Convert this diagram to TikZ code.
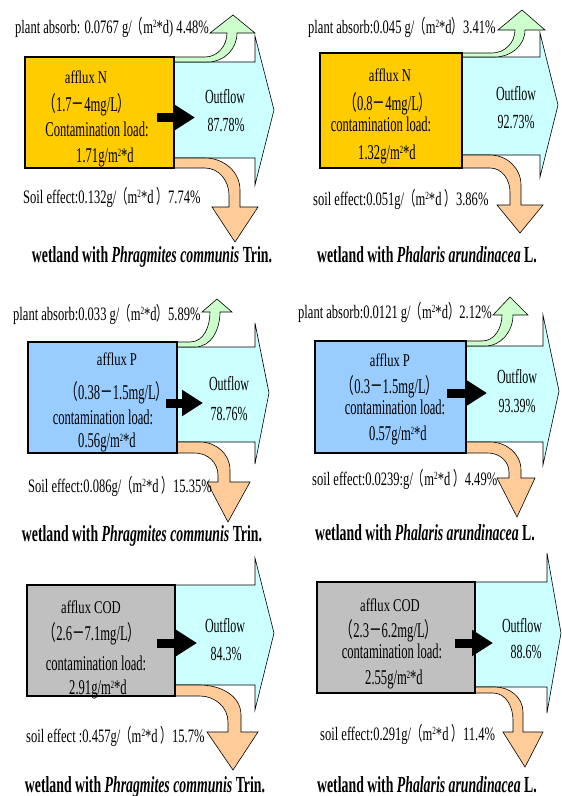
\documentclass[tikz,border=0pt]{standalone}
\usepackage{fontspec}
\setmainfont{Liberation Serif}[FakeStretch=0.6]
\newfontfamily\sidefont{Liberation Serif}[FakeStretch=0.66]
\newfontfamily\headfont{Liberation Serif}[FakeStretch=0.7]
\newfontfamily\cjk{Noto Sans CJK SC}[FakeStretch=0.6]
\usetikzlibrary{arrows.meta}

\definecolor{inN}{HTML}{FFCC00}
\definecolor{inP}{HTML}{99CCFF}
\definecolor{inCOD}{HTML}{C0C0C0}
\definecolor{outflow}{HTML}{CCFFFF}
\definecolor{plantflow}{HTML}{CCFFCC}
\definecolor{soilflow}{HTML}{FFCC99}

\newcommand\fwl{{\cjk （}}
\newcommand\fwr{{\cjk ）}}
\newcommand\fwm{{\cjk －}}
\newcommand\msq{m\raisebox{0.6ex}{\fontsize{11}{11}\selectfont 2}}

\tikzset{
  >=latex,
  inbox/.style={draw,line width=1.2pt},
  flow/.style={draw,line width=0.6pt,line join=miter},
  lbl/.style={inner sep=0pt,anchor=base,font=\fontsize{21}{21}\selectfont},
  headlbl/.style={lbl,font=\headfont\fontsize{18}{18}\selectfont},
  outlbl/.style={lbl,font=\fontsize{20}{20}\selectfont},
  sidelbl/.style={lbl,anchor=base west,font=\sidefont\fontsize{19}{19}\selectfont},
  wetname/.style={inner sep=0pt,anchor=base,font=\fontsize{23}{23}\selectfont\bfseries},
  pusharrow/.style={line width=9pt,-{Triangle[length=21pt,width=25pt]}}
}

\begin{document}
\begin{tikzpicture}[x=1pt,y=-1pt]
  \path[use as bounding box,fill=white] (0,0) rectangle (562,796);

  % ---- N, Phragmites ----
  \draw[flow,fill=outflow] (174,62) -- (255,62) -- (255,36) -- (274,110) -- (255,185) -- (255,158) -- (174,158) -- cycle;
  \draw[flow,fill=plantflow] (174,62) -- (208,62) to[out=0,in=-90] (237,33) -- (255,33) -- (233,15) -- (210,33) -- (227,33) to[out=-90,in=0] (205,57) -- (174,57) -- cycle;
  \draw[flow,fill=soilflow] (174,158) -- (205,158) to[out=0,in=90] (240,190) -- (240,207) -- (258,207) -- (235,242) -- (212,207) -- (229,207) -- (229,195) to[out=90,in=0] (205,168) -- (174,168) -- cycle;
  \draw[inbox,fill=inN] (25,57) rectangle (174,168);
  \draw[pusharrow] (157,117.5) -- (195,117.5);
  \node[sidelbl] (p1plant) at (15,33) {plant absorb: 0.0767 g/\fwl\msq*d) 4.48\%};
  \node[headlbl] (p1in) at (86,83) {afflux N};
  \node[lbl] (p1range) at (87,111) {\fwl 1.7\fwm 4mg/L\fwr};
  \node[lbl] (p1load) at (97,136) {Contamination load:};
  \node[lbl] (p1rate) at (105,162) {1.71g/\msq*d};
  \node[outlbl] (p1out) at (225,103) {Outflow};
  \node[outlbl] (p1pct) at (226,131) {87.78\%};
  \node[sidelbl] (p1soil) at (23,203) {Soil effect:0.132g/\fwl\msq*d \fwr 7.74\%};
  \node[wetname] (p1name) at (152,262) {wetland with \textit{Phragmites communis} Trin.};

  % ---- N, Phalaris ----
  \draw[flow,fill=outflow] (462,57) -- (540,57) -- (540,33) -- (558,105) -- (540,177) -- (540,155) -- (462,155) -- cycle;
  \draw[flow,fill=plantflow] (462,57) -- (495,57) to[out=0,in=-90] (525,30) -- (545,30) -- (522,10) -- (498,30) -- (515,30) to[out=-90,in=0] (492,53) -- (462,53) -- cycle;
  \draw[flow,fill=soilflow] (462,155) -- (490,155) to[out=0,in=90] (521,185) -- (521,205) -- (543,205) -- (520,233) -- (497,205) -- (510,205) -- (510,192) to[out=90,in=0] (490,168) -- (462,168) -- cycle;
  \draw[inbox,fill=inN] (320,53) rectangle (462,168);
  \node[sidelbl] (p2plant) at (308,33) {plant absorb:0.045 g/\fwl\msq*d\fwr 3.41\%};
  \node[headlbl] (p2in) at (390,81) {afflux N};
  \node[lbl] (p2range) at (388,110) {\fwl 0.8\fwm 4mg/L\fwr};
  \node[lbl] (p2load) at (381,131) {contamination load:};
  \node[lbl] (p2rate) at (387,159) {1.32g/\msq*d};
  \node[outlbl] (p2out) at (516,100) {Outflow};
  \node[outlbl] (p2pct) at (516,128) {92.73\%};
  \node[sidelbl] (p2soil) at (313,205) {soil effect:0.051g/\fwl\msq*d \fwr 3.86\%};
  \node[wetname] (p2name) at (427,262) {wetland with \textit{Phalaris arundinacea} L.};

  % ---- P, Phragmites ----
  \draw[flow,fill=outflow] (177,347) -- (255,347) -- (255,323) -- (269,393) -- (255,464) -- (255,442) -- (177,442) -- cycle;
  \draw[flow,fill=plantflow] (177,347) -- (195,347) to[out=0,in=-90] (220,312) -- (232,312) -- (217,299) -- (202,312) -- (210,312) to[out=-90,in=0] (190,342) -- (177,342) -- cycle;
  \draw[flow,fill=soilflow] (177,442) -- (200,442) to[out=0,in=90] (230,470) -- (230,482) -- (250,482) -- (228,522) -- (207,482) -- (218,482) -- (218,475) to[out=90,in=0] (195,453) -- (177,453) -- cycle;
  \draw[inbox,fill=inP] (28,342) rectangle (177,453);
  \draw[pusharrow] (166,403) -- (203,403);
  \node[sidelbl] (p3plant) at (13,320) {plant absorb:0.033 g/\fwl\msq*d\fwr 5.89\%};
  \node[headlbl] (p3in) at (117,365) {afflux P};
  \node[lbl] (p3range) at (117,399) {\fwl 0.38\fwm 1.5mg/L\fwr};
  \node[lbl] (p3load) at (103,424) {contamination load:};
  \node[lbl] (p3rate) at (107,447) {0.56g/\msq*d};
  \node[outlbl] (p3out) at (229,390) {Outflow};
  \node[outlbl] (p3pct) at (229,420) {78.76\%};
  \node[sidelbl] (p3soil) at (28,492) {Soil effect:0.086g/\fwl\msq*d \fwr 15.35\%};
  \node[wetname] (p3name) at (142,541) {wetland with \textit{Phragmites communis} Trin.};

  % ---- P, Phalaris ----
  \draw[flow,fill=outflow] (466,346) -- (543,346) -- (543,315) -- (559,391) -- (543,465) -- (543,442) -- (466,442) -- cycle;
  \draw[flow,fill=plantflow] (466,346) -- (485,346) to[out=0,in=-90] (513,315) -- (528,315) -- (510,297) -- (493,315) -- (502,315) to[out=-90,in=0] (482,341) -- (466,341) -- cycle;
  \draw[flow,fill=soilflow] (466,442) -- (490,442) to[out=0,in=90] (521,470) -- (521,478) -- (535,478) -- (517,517) -- (497,478) -- (509,478) -- (509,472) to[out=90,in=0] (488,453) -- (466,453) -- cycle;
  \draw[inbox,fill=inP] (315,341) rectangle (466,453);
  \draw[pusharrow] (447,393) -- (487,393);
  \node[sidelbl] (p4plant) at (298,318) {plant absorb:0.0121 g/\fwl\msq*d\fwr 2.12\%};
  \node[headlbl] (p4in) at (390,366) {afflux P};
  \node[lbl] (p4range) at (390,393) {\fwl 0.3\fwm 1.5mg/L\fwr};
  \node[lbl] (p4load) at (395,414) {contamination load:};
  \node[lbl] (p4rate) at (398,440) {0.57g/\msq*d};
  \node[outlbl] (p4out) at (517,383) {Outflow};
  \node[outlbl] (p4pct) at (517,412) {93.39\%};
  \node[sidelbl] (p4soil) at (312,485) {soil effect:0.0239:g/\fwl\msq*d \fwr 4.49\%};
  \node[wetname] (p4name) at (425,540) {wetland with \textit{Phalaris arundinacea} L.};

  % ---- COD, Phragmites ----
  \draw[flow,fill=outflow] (175,585) -- (255,585) -- (255,558) -- (274,633) -- (255,710) -- (255,685) -- (175,685) -- cycle;
  \draw[flow,fill=soilflow] (175,685) -- (200,685) to[out=0,in=90] (241,715) -- (241,732) -- (258,732) -- (233,770) -- (207,732) -- (228,732) -- (228,722) to[out=90,in=0] (200,696) -- (175,696) -- cycle;
  \draw[inbox,fill=inCOD] (27,585) rectangle (175,696);
  \draw[pusharrow] (157,643) -- (197,643);
  \node[headlbl] (p5in) at (91,613) {afflux COD};
  \node[lbl] (p5range) at (92,640) {\fwl 2.6\fwm 7.1mg/L\fwr};
  \node[lbl] (p5load) at (96,670) {contamination load:};
  \node[lbl] (p5rate) at (98,694) {2.91g/\msq*d};
  \node[outlbl] (p5out) at (225,632) {Outflow};
  \node[outlbl] (p5pct) at (226,660) {84.3\%};
  \node[sidelbl] (p5soil) at (26,742) {soil effect :0.457g/\fwl\msq*d \fwr 15.7\%};
  \node[wetname] (p5name) at (145,792) {wetland with \textit{Phragmites communis} Trin.};

  % ---- COD, Phalaris ----
  \draw[flow,fill=outflow] (475,582) -- (547,582) -- (547,553) -- (561,633) -- (547,713) -- (547,687) -- (475,687) -- cycle;
  \draw[flow,fill=soilflow] (475,687) -- (495,687) to[out=0,in=90] (523,712) -- (523,732) -- (543,732) -- (525,767) -- (503,732) -- (513,732) -- (513,720) to[out=90,in=0] (493,693) -- (475,693) -- cycle;
  \draw[inbox,fill=inCOD] (317,582) rectangle (475,693);
  \draw[pusharrow] (455,643) -- (493,643);
  \node[headlbl] (p6in) at (390,611) {afflux COD};
  \node[lbl] (p6range) at (389,637) {\fwl 2.3\fwm 6.2mg/L\fwr};
  \node[lbl] (p6load) at (392,658) {contamination load:};
  \node[lbl] (p6rate) at (394,684) {2.55g/\msq*d};
  \node[outlbl] (p6out) at (522,632) {Outflow};
  \node[outlbl] (p6pct) at (526,658) {88.6\%};
  \node[sidelbl] (p6soil) at (320,740) {soil effect:0.291g/\fwl\msq*d \fwr 11.4\%};
  \node[wetname] (p6name) at (427,792) {wetland with \textit{Phalaris arundinacea} L.};
\end{tikzpicture}
\end{document}
